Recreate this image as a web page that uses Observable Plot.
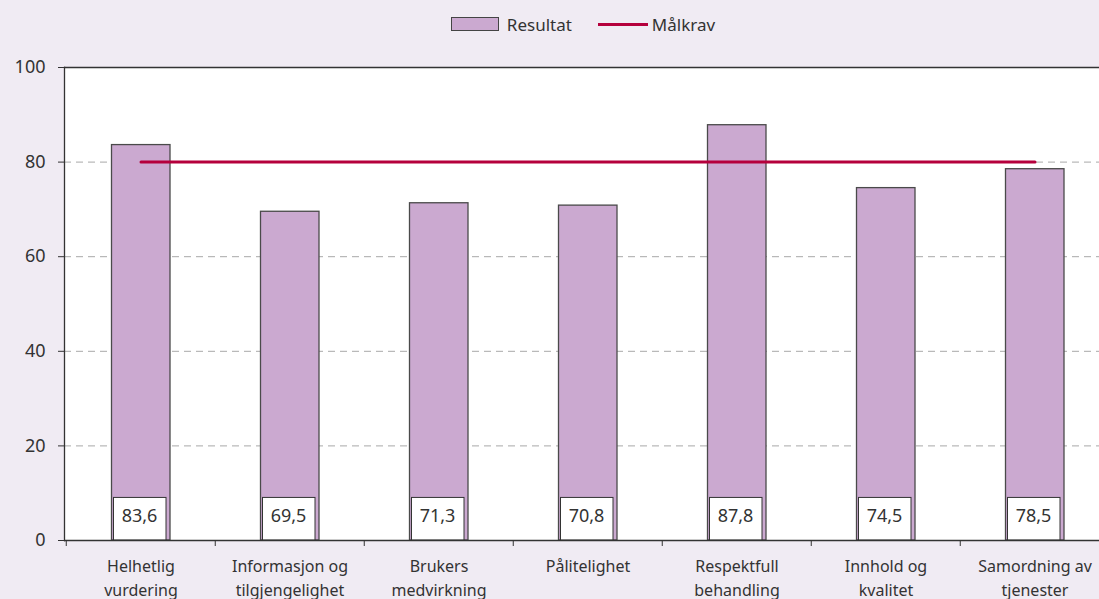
<!DOCTYPE html>
<html>
<head>
<meta charset="utf-8">
<script src="https://cdn.jsdelivr.net/npm/d3@7"></script>
<script src="https://cdn.jsdelivr.net/npm/@observablehq/plot@0.6"></script>
<style>
  html, body { margin: 0; padding: 0; background: #f0ebf3; width: 1099px; height: 599px; overflow: hidden; }
  #legend { height: 50px; width: 1046px; margin-left: 60px; display: flex; justify-content: center; align-items: center;
    font-family: "Noto Sans", sans-serif; font-size: 17px; color: #333; box-sizing: border-box; padding-bottom: 2px; }
  .sw { display: inline-block; width: 46px; height: 12px; background: #cba9d0; border: 1px solid #444; margin-right: 8px; }
  .ln { display: inline-block; width: 50px; height: 3px; background: #b5003c; margin-left: 26px; margin-right: 4px; }
</style>
</head>
<body>
<div id="legend"><span class="sw"></span><span>Resultat</span><span class="ln"></span><span>Målkrav</span></div>
<div id="chart"></div>
<script>
const categories = ["Helhetlig vurdering", "Informasjon og tilgjengelighet", "Brukers medvirkning", "Pålitelighet", "Respektfull behandling", "Innhold og kvalitet", "Samordning av tjenester"];
const tickLabels = ["Helhetlig\nvurdering", "Informasjon og\ntilgjengelighet", "Brukers\nmedvirkning", "Pålitelighet", "Respektfull\nbehandling", "Innhold og\nkvalitet", "Samordning av\ntjenester"];
const values = [83.6, 69.5, 71.3, 70.8, 87.8, 74.5, 78.5];
const target = 80;
const yTicks = [0, 20, 40, 60, 80, 100];

const data = categories.map((c, i) => ({cat: c, value: values[i], target}));
const labelOf = new Map(categories.map((c, i) => [c, tickLabels[i]]));

const bw = (1110.5 - 64) / categories.length;

const chart = Plot.plot({
  width: 1099,
  height: 549,
  marginLeft: 64,
  marginRight: -11.5,
  marginTop: 17,
  marginBottom: 59,
  style: {background: "transparent", fontFamily: "Noto Sans, sans-serif", color: "#333"},
  x: {domain: categories, padding: 0, label: null},
  y: {domain: [0, 100], label: null},
  marks: [
    Plot.frame({fill: "white", stroke: "none"}),
    Plot.gridY(yTicks.slice(1, -1), {stroke: "#a8a8a8", strokeOpacity: 1, strokeDasharray: "7,5"}),
    Plot.barY(data, {x: "cat", y: "value", fill: "#cba9d0", stroke: "#4a4a4a", strokeWidth: 1.3, insetLeft: 45.5, insetRight: 45}),
    Plot.barY(data, {x: "cat", y1: 0, y2: 9, fill: "white", stroke: "#333", strokeWidth: 1, insetLeft: 47.5, insetRight: 49}),
    Plot.text(data, {x: "cat", y: 5.2, dx: -1.5, text: d => d.value.toFixed(1).replace(".", ","), fontSize: 18, fill: "#333", letterSpacing: "1.3px"}),
    Plot.line(data, {x: "cat", y: "target", stroke: "#b5003c", strokeWidth: 3}),
    Plot.ruleY([0, 100], {stroke: "#333", strokeWidth: 1.3}),
    Plot.frame({anchor: "left", stroke: "#333", strokeWidth: 1.3}),
    Plot.axisY(yTicks, {tickSize: 6, tickPadding: 13, fontSize: 18, letterSpacing: "0.5px", stroke: "#333", label: null}),
    Plot.axisX({tickSize: 6, tickFormat: () => "", dx: -bw / 2, stroke: "#333", label: null}),
    Plot.axisX({tickSize: 0, tickPadding: 14, tickFormat: c => labelOf.get(c), fontSize: 16, lineHeight: 1.5, fill: "#333", label: null})
  ]
});
document.getElementById("chart").appendChild(chart);
</script>
</body>
</html>
